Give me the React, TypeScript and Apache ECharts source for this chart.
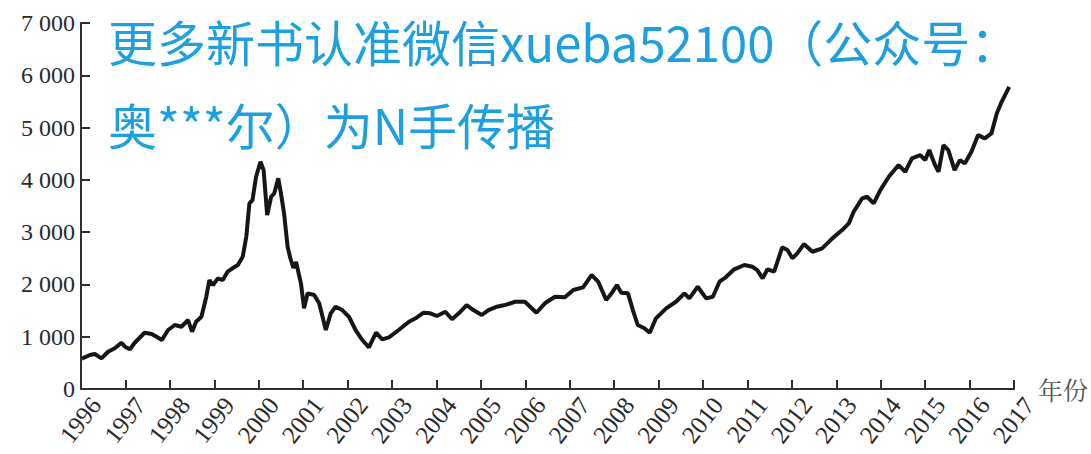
import React, { useEffect, useRef } from "react";
import * as echarts from "echarts";

// Decimal year of each sampled point
const years = [
  1996.02, 1996.2, 1996.31, 1996.46, 1996.61, 1996.76, 1996.91, 1996.99, 1997.1, 1997.21,
  1997.43, 1997.59, 1997.7, 1997.82, 1997.96, 1998.11, 1998.26, 1998.41, 1998.5, 1998.59,
  1998.71, 1998.82, 1998.89, 1998.97, 1999.08, 1999.19, 1999.3, 1999.41, 1999.53, 1999.64,
  1999.72, 1999.79, 1999.86, 1999.94, 2000.04, 2000.11, 2000.19, 2000.28, 2000.35, 2000.44,
  2000.5, 2000.57, 2000.65, 2000.71, 2000.78, 2000.84, 2000.95, 2001.02, 2001.1, 2001.25,
  2001.36, 2001.51, 2001.62, 2001.73, 2001.88, 2002.03, 2002.18, 2002.33, 2002.48, 2002.64,
  2002.78, 2002.93, 2003.15, 2003.38, 2003.53, 2003.71, 2003.86, 2004.01, 2004.2, 2004.35,
  2004.54, 2004.68, 2004.83, 2005.02, 2005.17, 2005.36, 2005.54, 2005.77, 2005.99, 2006.25,
  2006.44, 2006.67, 2006.89, 2007.08, 2007.3, 2007.49, 2007.64, 2007.82, 2007.94, 2008.06,
  2008.16, 2008.31, 2008.42, 2008.53, 2008.68, 2008.8, 2008.94, 2009.17, 2009.39, 2009.58,
  2009.69, 2009.88, 2010.07, 2010.22, 2010.37, 2010.51, 2010.7, 2010.93, 2011.11, 2011.22,
  2011.34, 2011.45, 2011.6, 2011.78, 2011.9, 2012.01, 2012.12, 2012.27, 2012.46, 2012.68,
  2012.91, 2013.13, 2013.28, 2013.39, 2013.58, 2013.69, 2013.84, 2013.99, 2014.18, 2014.4,
  2014.55, 2014.7, 2014.89, 2015.0, 2015.09, 2015.22, 2015.3, 2015.41, 2015.52, 2015.66,
  2015.78, 2015.89, 2016.04, 2016.19, 2016.34, 2016.49, 2016.61, 2016.72, 2016.89,
];

// Index level at each point
const values = [
  580, 650, 669, 587, 713, 778, 885, 809, 759, 885,
  1076, 1052, 1000, 937, 1128, 1224, 1191, 1319, 1096, 1287,
  1382, 1765, 2084, 1988, 2117, 2084, 2243, 2308, 2371, 2530,
  2912, 3551, 3614, 4059, 4346, 4187, 3327, 3677, 3742, 4029,
  3742, 3359, 2721, 2505, 2314, 2428, 2021, 1543, 1830, 1797,
  1639, 1128, 1447, 1574, 1510, 1382, 1128, 937, 797, 1076,
  950, 988, 1128, 1287, 1352, 1459, 1447, 1396, 1478, 1333,
  1478, 1606, 1510, 1415, 1510, 1574, 1606, 1669, 1669, 1459,
  1639, 1765, 1753, 1893, 1945, 2180, 2052, 1702, 1830, 1988,
  1841, 1830, 1510, 1224, 1161, 1076, 1352, 1543, 1669, 1830,
  1734, 1956, 1734, 1765, 2052, 2136, 2289, 2371, 2338, 2275,
  2117, 2289, 2243, 2709, 2658, 2499, 2595, 2772, 2625, 2690,
  2881, 3040, 3168, 3390, 3646, 3677, 3551, 3805, 4059, 4283,
  4155, 4411, 4474, 4378, 4570, 4283, 4155, 4665, 4570, 4187,
  4378, 4315, 4537, 4856, 4793, 4889, 5271, 5493, 5780,
];

const xMin = 1996;
const xMax = 2017;
const yMax = 7000;
const xName = "年份";
const watermarkLines = ["更多新书认准微信xueba52100（公众号：", "奥***尔）为N手传播"];

export default function App() {
  const ref = useRef<HTMLDivElement>(null);

  useEffect(() => {
    if (!ref.current) return;
    const chart = echarts.init(ref.current, undefined, { renderer: "svg" });
    const serif = '"Liberation Serif", "Times New Roman", serif';
    const axisColor = "#2f2f2f";
    const data = years.map((y, i) => [y, values[i]]);

    chart.setOption({
      animation: false,
      backgroundColor: "#ffffff",
      grid: { left: 81, right: 74, top: 23, bottom: 65, containLabel: false },
      xAxis: {
        type: "value",
        min: xMin,
        max: xMax,
        interval: 1,
        name: xName,
        nameLocation: "end",
        nameGap: 14,
        nameTextStyle: {
          fontFamily: '"Noto Serif CJK SC", "Noto Sans CJK SC", serif',
          fontSize: 25,
          color: "#555",
          verticalAlign: "middle",
        },
        axisLine: { show: true, lineStyle: { color: axisColor, width: 2 } },
        axisTick: { show: true, inside: true, length: 9, lineStyle: { color: axisColor, width: 2 } },
        splitLine: { show: false },
        axisLabel: {
          rotate: 52,
          margin: 10,
          fontFamily: serif,
          fontSize: 25,
          color: "#2a2a2a",
          align: "right",
          verticalAlign: "top",
          padding: [0, -8, 0, 0],
          formatter: (v: number) => String(Math.round(v)),
        },
      },
      yAxis: {
        type: "value",
        min: 0,
        max: yMax,
        interval: 1000,
        axisLine: { show: true, lineStyle: { color: axisColor, width: 2 } },
        axisTick: { show: true, inside: true, length: 9, lineStyle: { color: axisColor, width: 2 } },
        splitLine: { show: false },
        axisLabel: {
          margin: 6,
          fontFamily: serif,
          fontSize: 24,
          color: "#2a2a2a",
          formatter: (v: number) => (v === 0 ? "0" : `${v / 1000} 000`),
        },
      },
      series: [
        {
          type: "line",
          data,
          showSymbol: false,
          smooth: false,
          lineStyle: { color: "#161616", width: 4 },
          z: 3,
        },
      ],
      graphic: watermarkLines.map((t, i) => ({
        type: "text",
        x: 108,
        y: 40 + i * 83,
        z: 100,
        style: {
          text: t,
          fill: "#1d9fe0",
          font: '49px "Noto Sans CJK SC", sans-serif',
          align: "left",
          verticalAlign: "middle",
        },
      })),
    });

    return () => chart.dispose();
  }, []);

  return (
    <div
      ref={ref}
      style={{ position: "absolute", left: 0, top: 0, width: 1091, height: 454, background: "#fff" }}
    />
  );
}
